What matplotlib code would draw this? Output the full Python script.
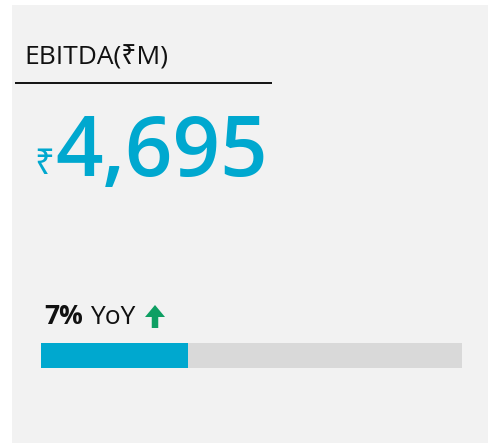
import matplotlib
matplotlib.use("Agg")
import matplotlib.pyplot as plt
from matplotlib.patches import Rectangle, FancyArrow

# values read from the card
title = "EBITDA(₹M)"
currency = "₹"
ebitda_value = 4695
yoy_pct = 7
bar_max = 20  # full width of the progress bar

plt.rcParams['font.family'] = ['Open Sans', 'Noto Sans', 'DejaVu Sans']

W, H = 488, 443
fig = plt.figure(figsize=(W / 100, H / 100), dpi=100)
fig.patch.set_facecolor('white')

# full-figure axes in pixel units (y pointing down)
ax = fig.add_axes([0, 0, 1, 1])
ax.set_xlim(0, W)
ax.set_ylim(H, 0)
ax.axis('off')

cyan = '#00A8CF'
ax.add_patch(Rectangle((12, 5), W - 12, H - 5, facecolor='#F2F2F2', edgecolor='none'))

ax.text(24, 64, title, fontsize=19, color='#111111', ha='left', va='baseline')
ax.plot([15, 272], [83, 83], color='#111111', lw=1.4, solid_capstyle='butt')

ax.text(34, 174, currency, fontsize=25, color=cyan, ha='left', va='baseline')
ax.text(55, 176, f"{ebitda_value:,}", fontsize=60, fontweight='semibold', color=cyan,
        ha='left', va='baseline')

ax.text(44, 324, f"{yoy_pct}%", fontsize=19, fontweight='bold', color='#111111',
        ha='left', va='baseline')
ax.text(90, 324, "YoY", fontsize=19, color='#111111', ha='left', va='baseline')

# up arrow (green) next to YoY
ax.add_patch(FancyArrow(155, 328, 0, -23, width=6.5, head_width=20, head_length=12,
                        length_includes_head=True, color='#0E9F63', lw=0))

# progress bar
bx = fig.add_axes([41 / W, (H - 368) / H, 421 / W, 25 / H])
bx.barh([0], [bar_max], height=1, color='#D9D9D9')
bx.barh([0], [yoy_pct], height=1, color=cyan)
bx.set_xlim(0, bar_max)
bx.set_ylim(-0.5, 0.5)
bx.axis('off')

fig.savefig('out.png', dpi=100)
